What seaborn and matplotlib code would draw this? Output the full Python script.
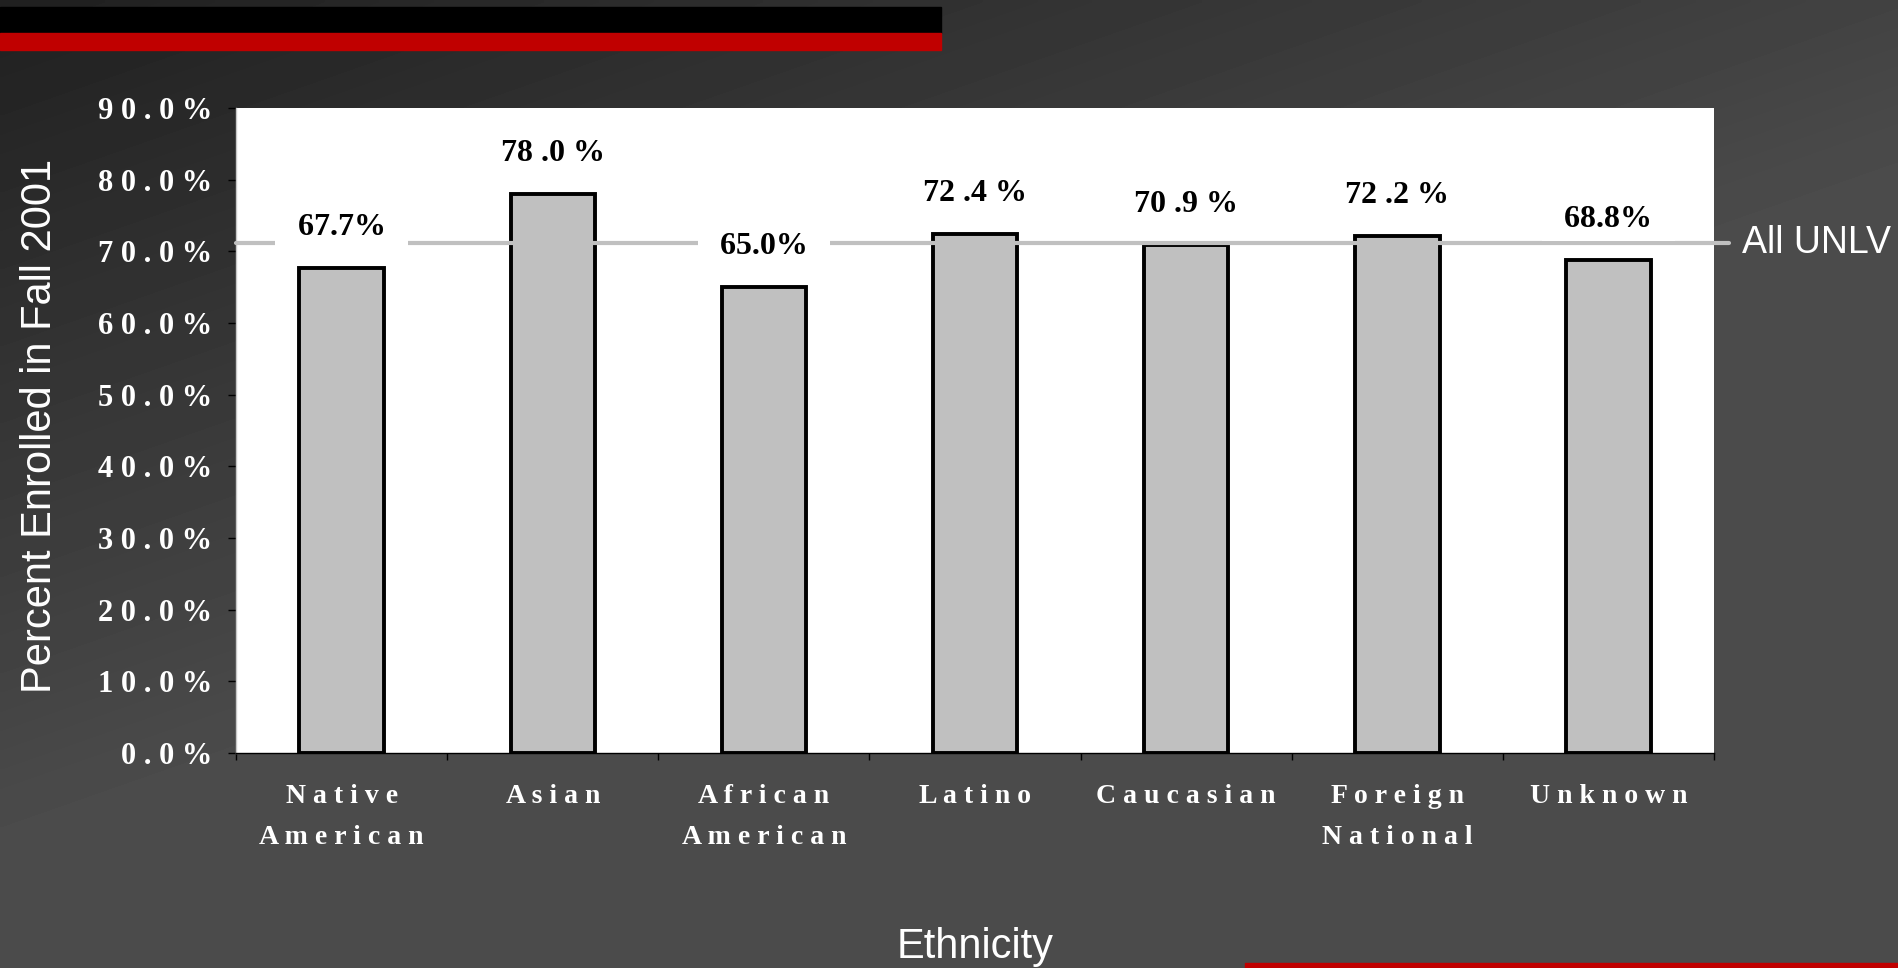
import numpy as np
import seaborn as sns
import matplotlib.pyplot as plt
from matplotlib.patches import Rectangle

# chart data
categories = ["Native\nAmerican", "Asian", "African\nAmerican", "Latino",
              "Caucasian", "Foreign\nNational", "Unknown"]
pct_enrolled = [67.7, 78.0, 65.0, 72.4, 70.9, 72.2, 68.8]
value_labels = ["67.7%", "78 .0 %", "65.0%", "72 .4 %", "70 .9 %", "72 .2 %", "68.8%"]
all_unlv = 71.1
y_ticks = [0, 10, 20, 30, 40, 50, 60, 70, 80, 90]


def spread(s):
    # the slide font draws the labels with wide letter spacing
    return "\n".join(" ".join(line) for line in s.split("\n"))


sns.set_theme(style="white")
plt.rcParams['font.family'] = ['Liberation Serif', 'DejaVu Serif']
sans = ['Liberation Sans', 'DejaVu Sans']

fig = plt.figure(figsize=(18.99, 9.68), dpi=100)

# slide background: dark gradient plus the red / black bars
bg = fig.add_axes([0, 0, 1, 1], zorder=-10)
xx, yy = np.meshgrid(np.linspace(0, 1, 400), np.linspace(0, 1, 200))
shade = np.clip(0.8 * xx + 1.16 * yy, 0, 1)
bg.imshow((32 + 43 * shade) / 255, cmap='gray', vmin=0, vmax=1,
          aspect='auto', interpolation='bilinear')
bg.add_patch(Rectangle((0, 0.9659), 0.4955, 0.0269, color='black', transform=bg.transAxes))
bg.add_patch(Rectangle((0, 0.9483), 0.4955, 0.0176, color='#c00000', transform=bg.transAxes))
bg.add_patch(Rectangle((0.6556, 0), 0.3444, 0.0052, color='#c00000', transform=bg.transAxes))
bg.axis('off')

ax = fig.add_axes([0.1243, 0.2221, 0.7783, 0.6663])
ax.set_facecolor('white')
sns.barplot(x=categories, y=pct_enrolled, color="#c0c0c0", saturation=1,
            edgecolor="black", linewidth=2.8, width=0.4, ax=ax, zorder=2)
ax.set_xlim(-0.5, 6.5)
ax.set_ylim(0, 90)

# All UNLV reference line
ax.axhline(all_unlv, xmin=0, xmax=1.0101, color="#c0c0c0", lw=3, clip_on=False, zorder=3)
ax.text(1.019, all_unlv, "All UNLV", transform=ax.get_yaxis_transform(),
        ha='left', va='center', color='white', fontsize=27, family=sans)

# value labels sit in white boxes that blank out the line where they overlap
for i, (v, lab) in enumerate(zip(pct_enrolled, value_labels)):
    ax.annotate(f"  {lab}  ", (i, v), xytext=(0, 29), textcoords='offset points',
                ha='center', va='center', fontsize=23, fontweight='bold', color='black',
                bbox=dict(boxstyle='square,pad=0.2', fc='white', ec='none'), zorder=4)

# axes styling
ax.set_yticks(y_ticks)
ax.set_yticklabels([spread(f"{t:.1f}%") for t in y_ticks])
ax.set_xticks(range(len(categories)))
ax.set_xticklabels([spread(c) for c in categories], linespacing=1.85)
ax.set_xticks(np.arange(-0.5, len(categories)), minor=True)
ax.tick_params(axis='y', left=True, length=6, width=1, color='black', pad=11,
               labelsize=22, labelcolor='white')
ax.tick_params(axis='x', which='major', bottom=True, length=0, pad=22,
               labelsize=20, labelcolor='white')
ax.tick_params(axis='x', which='minor', bottom=True, length=5, width=1, color='black')
for lbl in ax.get_yticklabels() + ax.get_xticklabels():
    lbl.set_fontweight('bold')

for side in ['top', 'right']:
    ax.spines[side].set_visible(False)
ax.spines['bottom'].set_color('black')
ax.spines['bottom'].set_linewidth(1)
ax.spines['left'].set_color('#c8c8c8')
ax.spines['left'].set_linewidth(1)

ax.set_ylabel("Percent Enrolled in Fall 2001", fontsize=30, color='white',
              family=sans, va='center')
ax.yaxis.set_label_coords(-0.1326, 0.507)
ax.set_xlabel("Ethnicity", fontsize=30, color='white', family=sans, va='center')
ax.xaxis.set_label_coords(0.5, -0.301)

fig.savefig("out.png", dpi=100)
